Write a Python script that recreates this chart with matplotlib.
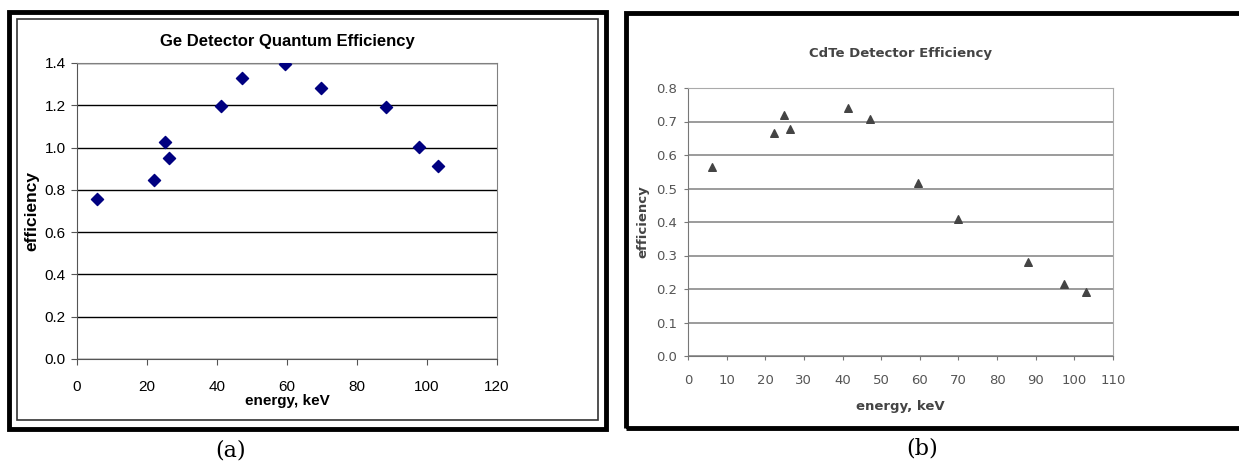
import numpy as np
import matplotlib.pyplot as plt
from matplotlib.patches import Rectangle

plt.rcParams['font.family'] = ['Liberation Sans', 'DejaVu Sans']

# Ge detector data
ge_energy = [5.8, 22.1, 25.0, 26.4, 41.2, 47.2, 59.5, 69.6, 88.2, 97.6, 103.1]
ge_eff = [0.756, 0.846, 1.025, 0.950, 1.198, 1.331, 1.394, 1.282, 1.192, 1.005, 0.915]
ge_yticks = [0.0, 0.2, 0.4, 0.6, 0.8, 1.0, 1.2, 1.4]
ge_xticks = [0, 20, 40, 60, 80, 100, 120]

# CdTe detector data
cdte_energy = [6.2, 22.3, 24.9, 26.5, 41.3, 47.1, 59.6, 69.9, 88.0, 97.3, 103.1]
cdte_eff = [0.565, 0.666, 0.720, 0.679, 0.741, 0.708, 0.517, 0.409, 0.281, 0.215, 0.191]
cdte_yticks = [0.0, 0.1, 0.2, 0.3, 0.4, 0.5, 0.6, 0.7, 0.8]
cdte_xticks = [0, 10, 20, 30, 40, 50, 60, 70, 80, 90, 100, 110]

W, H = 1239, 468
fig = plt.figure(figsize=(W / 100, H / 100), dpi=100)


def box(x0, y0, x1, y1):
    # pixel coords (top-left origin) -> figure fraction
    return [x0 / W, 1 - y1 / H, (x1 - x0) / W, (y1 - y0) / H]


# ---- panel (a) ----
ax1 = fig.add_axes(box(77, 63, 497, 359))
ax1.scatter(ge_energy, ge_eff, marker='D', s=38, color='#000080', zorder=3)
ax1.set_xlim(0, 120)
ax1.set_ylim(0, 1.4)
ax1.set_xticks(ge_xticks)
ax1.set_yticks(ge_yticks)
ax1.set_yticklabels(['%.1f' % v for v in ge_yticks])
ax1.yaxis.grid(True, color='black', linewidth=1)
ax1.set_axisbelow(True)
for s in ['top', 'right']:
    ax1.spines[s].set_color('#808080')
for s in ['left', 'bottom']:
    ax1.spines[s].set_color('#555555')
ax1.tick_params(direction='out', length=4, labelsize=11, color='#555555')
ax1.tick_params(axis='x', pad=11)
ax1.tick_params(axis='y', pad=4)
ax1.set_title('Ge Detector Quantum Efficiency', fontsize=12, fontweight='bold', pad=12)
ax1.set_xlabel('energy, keV', fontsize=11, fontweight='bold', labelpad=0)
ax1.set_ylabel('efficiency', fontsize=12.5, fontweight='bold', labelpad=4)

# ---- panel (b) ----
ax2 = fig.add_axes(box(688, 88, 1113, 356))
ax2.scatter(cdte_energy, cdte_eff, marker='^', s=30, color='#444444', zorder=3)
ax2.set_xlim(0, 110)
ax2.set_ylim(0, 0.8)
ax2.set_xticks(cdte_xticks)
ax2.set_yticks(cdte_yticks)
ax2.set_yticklabels(['%.1f' % v for v in cdte_yticks])
ax2.yaxis.grid(True, color='#8a8a8a', linewidth=1.2)
ax2.set_axisbelow(True)
for s in ['top', 'right']:
    ax2.spines[s].set_color('#aaaaaa')
for s in ['left', 'bottom']:
    ax2.spines[s].set_color('#777777')
ax2.tick_params(direction='out', length=3, color='#777777', labelcolor='#555555')
for lab in ax2.get_xticklabels() + ax2.get_yticklabels():
    lab.set_family(['DejaVu Sans'])
    lab.set_fontsize(9.5)
ax2.tick_params(axis='x', pad=10)
ax2.tick_params(axis='y', pad=5)
ax2.set_title('CdTe Detector Efficiency', fontsize=9.5, fontweight='bold', pad=22,
              color='#444444', family=['DejaVu Sans'])
ax2.set_xlabel('energy, keV', fontsize=9.5, fontweight='bold', labelpad=9,
               color='#444444', family=['DejaVu Sans'])
ax2.set_ylabel('efficiency', fontsize=9.5, fontweight='bold', labelpad=5,
               color='#444444', family=['DejaVu Sans'])

# frames
fig.add_artist(Rectangle((9 / W, 1 - 429 / H), (597 / W), (417 / H),
                         transform=fig.transFigure, fill=False, lw=3.5, ec='black'))
fig.add_artist(Rectangle((17 / W, 1 - 420 / H), (581 / W), (401 / H),
                         transform=fig.transFigure, fill=False, lw=1.2, ec='#333333'))
fig.add_artist(Rectangle((626 / W, 1 - 428 / H), (620 / W), (415 / H),
                         transform=fig.transFigure, fill=False, lw=3.5, ec='black'))

fig.text(231 / W, 1 - 450 / H, '(a)', ha='center', va='center', fontsize=16,
         family=['DejaVu Serif'])
fig.text(922 / W, 1 - 448 / H, '(b)', ha='center', va='center', fontsize=16,
         family=['DejaVu Serif'])

fig.savefig('out.png', dpi=100)
